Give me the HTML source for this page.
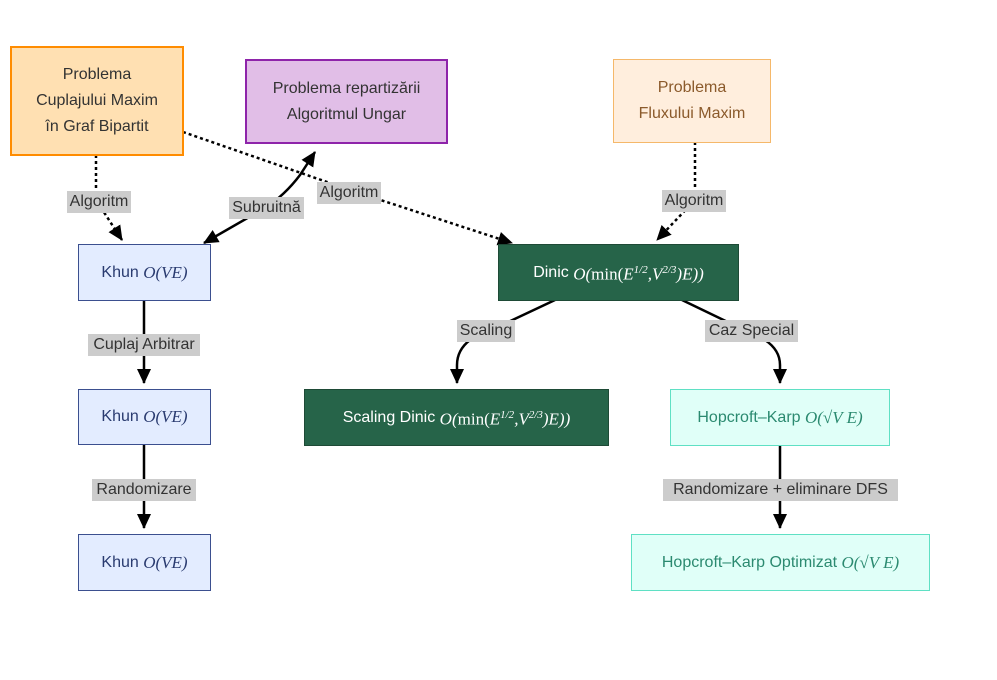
<!DOCTYPE html>
<html><head><meta charset="utf-8"><style>
body{margin:0;width:997px;height:680px;background:#fff;position:relative;font-family:"Liberation Sans",sans-serif;overflow:hidden}
.b{position:absolute;box-sizing:border-box;display:flex;align-items:center;justify-content:center;text-align:center;font-size:16px;line-height:26px;color:#333}
.l{position:absolute;background:#cccccc;font-size:16px;line-height:22px;color:#333;text-align:center}
i{font-family:"Liberation Serif",serif;font-size:17px}
i span{font-style:normal}
svg{position:absolute;left:0;top:0}
</style></head><body>
<svg width="997" height="680">
<defs><marker id="a" markerWidth="16" markerHeight="16" refX="14" refY="7" orient="auto" markerUnits="userSpaceOnUse"><path d="M0,0L15,7L0,14z" fill="#000"/></marker>
<marker id="s" markerWidth="16" markerHeight="16" refX="1" refY="7" orient="auto" markerUnits="userSpaceOnUse"><path d="M15,0L0,7L15,14z" fill="#000"/></marker></defs>
<g fill="none" stroke="#000" stroke-width="2.5">
<path d="M96,155 L96,200 L122,240" stroke-dasharray="3,3" marker-end="url(#a)"/>
<path d="M183,132 L350,190 L512,243" stroke-dasharray="3,3" marker-end="url(#a)"/>
<path d="M695,142 L695,200 L657,240" stroke-dasharray="3,3" marker-end="url(#a)"/>
<path d="M204,243 L265,208 Q285,195 300,175 L315,152" marker-start="url(#s)" marker-end="url(#a)"/>
<path d="M144,300 L144,383" marker-end="url(#a)"/>
<path d="M144,445 L144,528" marker-end="url(#a)"/>
<path d="M555,300 L470,340 Q457,350 457,365 L457,383" marker-end="url(#a)"/>
<path d="M682,300 L765,340 Q780,350 780,365 L780,383" marker-end="url(#a)"/>
<path d="M780,445 L780,528" marker-end="url(#a)"/>
</g></svg>
<div class="b" style="left:10px;top:46px;width:174px;height:110px;background:#ffe0b2;border:2px solid #ff8c00">Problema<br>Cuplajului Maxim<br>în Graf Bipartit</div>
<div class="b" style="left:245px;top:59px;width:203px;height:85px;background:#e1bee7;border:2px solid #8e24aa">Problema repartizării<br>Algoritmul Ungar</div>
<div class="b" style="left:613px;top:59px;width:158px;height:84px;background:#ffeedd;border:1px solid #f5b86a;color:#8b5a2b">Problema<br>Fluxului Maxim</div>
<div class="b" style="left:78px;top:244px;width:133px;height:57px;background:#e3ecff;border:1px solid #3b4f8f;color:#2a3b70">Khun&nbsp;<i>O(VE)</i></div>
<div class="b" style="left:78px;top:389px;width:133px;height:56px;background:#e3ecff;border:1px solid #3b4f8f;color:#2a3b70">Khun&nbsp;<i>O(VE)</i></div>
<div class="b" style="left:78px;top:534px;width:133px;height:57px;background:#e3ecff;border:1px solid #3b4f8f;color:#2a3b70">Khun&nbsp;<i>O(VE)</i></div>
<div class="b" style="left:498px;top:244px;width:241px;height:57px;background:#266449;border:1px solid #1e4a36;color:#fff">Dinic&nbsp;<i>O(<span>min(</span>E<sup style="font-size:11px">1/2</sup>,V<sup style="font-size:11px">2/3</sup>)E))</i></div>
<div class="b" style="left:304px;top:389px;width:305px;height:57px;background:#266449;border:1px solid #1e4a36;color:#fff">Scaling Dinic&nbsp;<i>O(<span>min(</span>E<sup style="font-size:11px">1/2</sup>,V<sup style="font-size:11px">2/3</sup>)E))</i></div>
<div class="b" style="left:670px;top:389px;width:220px;height:57px;background:#e0fff8;border:1px solid #5fe0c4;color:#2b8a70">Hopcroft–Karp&nbsp;<i>O(√V E)</i></div>
<div class="b" style="left:631px;top:534px;width:299px;height:57px;background:#e0fff8;border:1px solid #5fe0c4;color:#2b8a70">Hopcroft–Karp Optimizat&nbsp;<i>O(√V E)</i></div>
<div class="l" style="left:67px;top:191px;width:64px">Algoritm</div>
<div class="l" style="left:229px;top:197px;width:75px">Subruitnă</div>
<div class="l" style="left:317px;top:182px;width:64px">Algoritm</div>
<div class="l" style="left:662px;top:190px;width:64px">Algoritm</div>
<div class="l" style="left:88px;top:334px;width:112px">Cuplaj Arbitrar</div>
<div class="l" style="left:92px;top:479px;width:104px">Randomizare</div>
<div class="l" style="left:457px;top:320px;width:58px">Scaling</div>
<div class="l" style="left:705px;top:320px;width:93px">Caz Special</div>
<div class="l" style="left:663px;top:479px;width:235px">Randomizare + eliminare DFS</div>
</body></html>
